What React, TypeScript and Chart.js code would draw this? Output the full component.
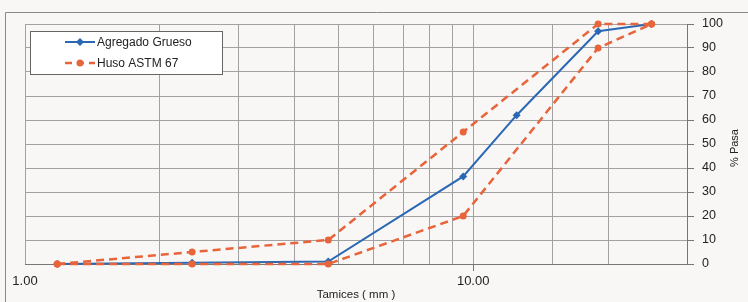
import React, { useEffect, useRef } from "react";
import { Chart, registerables } from "chart.js";

Chart.register(...registerables);

// ---- data ----
const SIEVES_GRUESO = [1.18, 2.36, 4.75, 9.5, 12.5, 19, 25];
const PASA_GRUESO = [0, 0.5, 1, 36.5, 62, 97, 100];

const SIEVES_HUSO = [1.18, 2.36, 4.75, 9.5, 19, 25];
const HUSO_SUPERIOR = [0, 5, 10, 55, 100, 100];
const HUSO_INFERIOR = [0, 0, 0, 20, 90, 100];

const LABEL_GRUESO = "Agregado Grueso";
const LABEL_HUSO = "Huso ASTM 67";
const X_TITLE = "Tamices ( mm )";
const Y_TITLE = "% Pasa";
const X_LABELED_TICKS = [1, 10];

const BLUE = "#2b68b3";
const ORANGE = "#e8643a";
const GRID = "#a2a2a2";
const FONT = "'Liberation Sans', Arial, sans-serif";

const toPoints = (xs: number[], ys: number[]) => xs.map((x, i) => ({ x, y: ys[i] }));

const framePlugin = {
  id: "frame",
  beforeDraw(chart: any) {
    const { ctx, width, height } = chart;
    ctx.save();
    ctx.fillStyle = "#f8f7f6";
    ctx.fillRect(0, 0, width, height);
    ctx.strokeStyle = "#8a8a8a";
    ctx.lineWidth = 1;
    ctx.beginPath();
    ctx.moveTo(5.5, height);
    ctx.lineTo(5.5, 12.5);
    ctx.lineTo(width, 12.5);
    ctx.stroke();
    ctx.restore();
  },
  afterDraw(chart: any) {
    const { ctx, chartArea } = chart;
    ctx.save();
    // axis titles
    ctx.fillStyle = "#222";
    ctx.font = `11.5px ${FONT}`;
    ctx.textAlign = "center";
    ctx.textBaseline = "middle";
    ctx.fillText(X_TITLE, (chartArea.left + chartArea.right) / 2, 295);
    ctx.font = `11px ${FONT}`;
    ctx.save();
    ctx.translate(735, (chartArea.top + chartArea.bottom) / 2 + 4);
    ctx.rotate(-Math.PI / 2);
    ctx.fillText(Y_TITLE, 0, 0);
    ctx.restore();

    // legend box
    const bx = 30.5, by = 31.5, bw = 192, bh = 43;
    ctx.fillStyle = "#ffffff";
    ctx.fillRect(bx, by, bw, bh);
    ctx.strokeStyle = "#666";
    ctx.lineWidth = 1;
    ctx.strokeRect(bx, by, bw, bh);

    const rows = [
      { label: LABEL_GRUESO, color: BLUE, dash: [] as number[], y: 42, marker: "diamond" },
      { label: LABEL_HUSO, color: ORANGE, dash: [7, 5], y: 63, marker: "circle" },
    ];
    rows.forEach((r) => {
      ctx.strokeStyle = r.color;
      ctx.lineWidth = r.marker === "circle" ? 2.5 : 2;
      ctx.setLineDash(r.dash);
      ctx.beginPath();
      ctx.moveTo(65, r.y);
      ctx.lineTo(95, r.y);
      ctx.stroke();
      ctx.setLineDash([]);
      ctx.fillStyle = r.color;
      ctx.beginPath();
      if (r.marker === "circle") {
        ctx.arc(80, r.y, 3.5, 0, Math.PI * 2);
      } else {
        ctx.moveTo(80, r.y - 4);
        ctx.lineTo(84, r.y);
        ctx.lineTo(80, r.y + 4);
        ctx.lineTo(76, r.y);
        ctx.closePath();
      }
      ctx.fill();
      ctx.fillStyle = "#222";
      ctx.font = `12px ${FONT}`;
      ctx.textAlign = "left";
      ctx.textBaseline = "middle";
      ctx.fillText(r.label, 97, r.y + 0.5);
    });
    ctx.restore();
  },
};

export default function App() {
  const ref = useRef<HTMLCanvasElement | null>(null);

  useEffect(() => {
    document.body.style.margin = "0";
    if (!ref.current) return;
    const chart = new Chart(ref.current, {
      type: "line",
      data: {
        datasets: [
          {
            label: LABEL_HUSO,
            data: toPoints(SIEVES_HUSO, HUSO_SUPERIOR),
            borderColor: ORANGE,
            backgroundColor: ORANGE,
            borderWidth: 2.5,
            borderDash: [8, 5],
            pointStyle: "circle",
            pointRadius: 3.5,
            pointBorderWidth: 0,
            tension: 0,
            clip: false,
          },
          {
            label: LABEL_HUSO + " inf",
            data: toPoints(SIEVES_HUSO, HUSO_INFERIOR),
            borderColor: ORANGE,
            backgroundColor: ORANGE,
            borderWidth: 2.5,
            borderDash: [8, 5],
            pointStyle: "circle",
            pointRadius: 3.5,
            pointBorderWidth: 0,
            tension: 0,
            clip: false,
          },
          {
            label: LABEL_GRUESO,
            data: toPoints(SIEVES_GRUESO, PASA_GRUESO),
            borderColor: BLUE,
            backgroundColor: BLUE,
            borderWidth: 2,
            pointStyle: "rectRot",
            pointRadius: 4,
            pointBorderWidth: 0,
            tension: 0,
            clip: false,
          },
        ],
      },
      options: {
        animation: false,
        responsive: false,
        maintainAspectRatio: false,
        layout: { padding: { left: 25, top: 24, right: 0, bottom: 0 } },
        plugins: { legend: { display: false }, tooltip: { enabled: false } },
        scales: {
          x: {
            type: "logarithmic",
            position: "bottom",
            min: 1,
            max: 30,
            afterFit: (s: any) => {
              s.height = 38;
            },
            grid: {
              color: GRID,
              lineWidth: 1,
              tickLength: 7,
              tickColor: (c: any) => (c.tick && c.tick.value === 10 ? "#777" : "rgba(0,0,0,0)"),
            },
            border: { color: "#777" },
            ticks: {
              autoSkip: false,
              maxRotation: 0,
              padding: 3,
              color: "#222",
              font: { family: FONT, size: 13 },
              callback: (v: any) => (X_LABELED_TICKS.includes(Number(v)) ? Number(v).toFixed(2) : ""),
            },
          },
          y: {
            position: "right",
            min: 0,
            max: 100,
            afterFit: (s: any) => {
              s.width = 61;
            },
            grid: { color: GRID, lineWidth: 1, tickLength: 7, tickColor: "#777" },
            border: { color: "#777" },
            ticks: {
              stepSize: 10,
              padding: 8,
              color: "#222",
              font: { family: FONT, size: 12.5 },
            },
          },
        },
      },
      plugins: [framePlugin],
    });
    return () => chart.destroy();
  }, []);

  return (
    <div style={{ width: 748, height: 302 }}>
      <canvas ref={ref} width={748} height={302} style={{ display: "block", width: 748, height: 302 }} />
    </div>
  );
}
